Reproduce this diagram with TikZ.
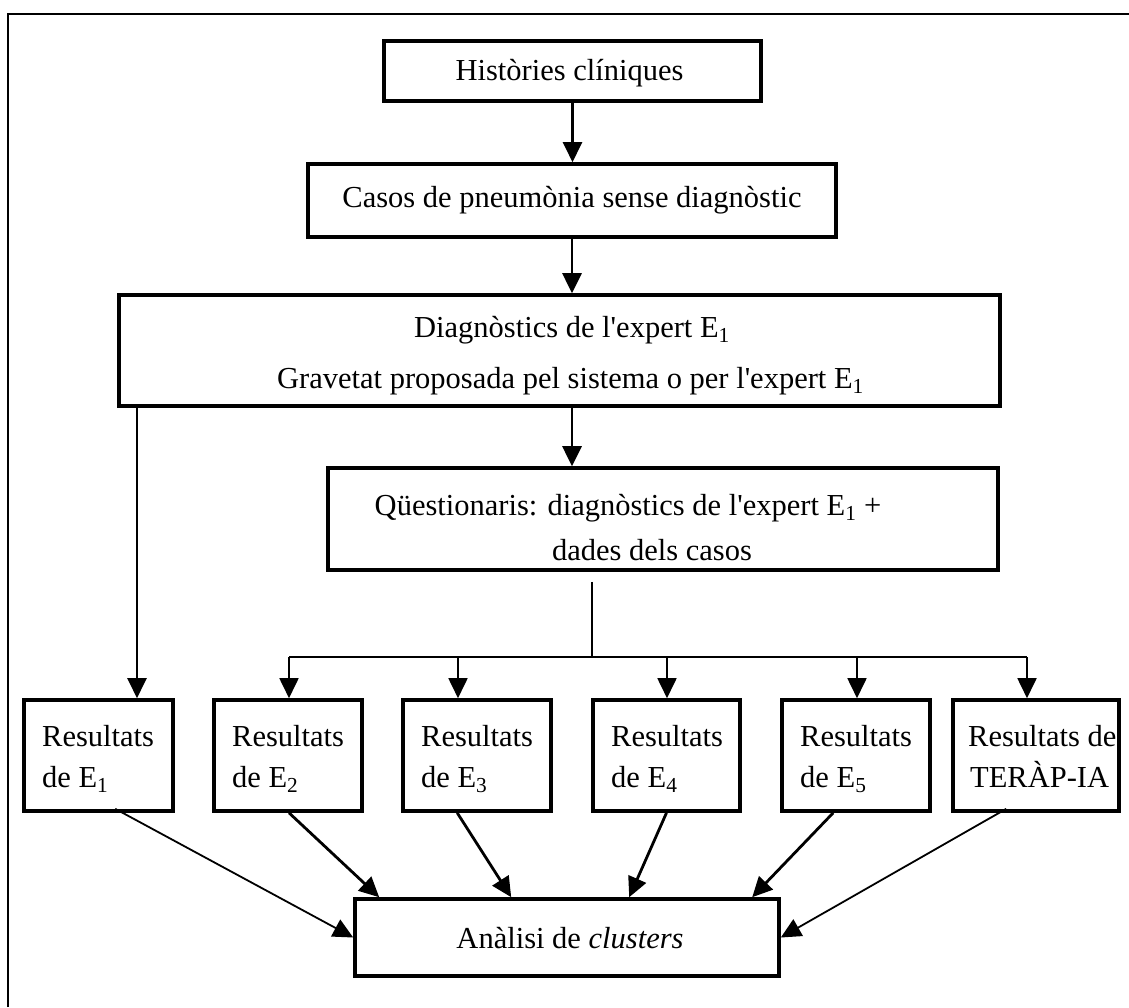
\documentclass[tikz,border=0pt]{standalone}
\usepackage{fontspec}
\setmainfont{Liberation Serif}[Ligatures=TeXOff]
\usetikzlibrary{arrows.meta,fit,calc}
\begin{document}
\begin{tikzpicture}[x=1pt,y=-1pt,
  box/.style={draw, line width=3.6pt, inner sep=0pt},
  lbl/.style={inner sep=0pt, font=\fontsize{30.5}{36}\selectfont},
  lblc/.style={lbl, anchor=base},
  lbll/.style={lbl, anchor=base west},
  tip/.style={-{Triangle[length=20pt,width=19pt]}},
  conthin/.style={tip, line width=1.8pt},
  conmid/.style={tip, line width=2.2pt},
  conthick/.style={tip, line width=2.8pt},
  rule/.style={line width=2pt}
]
\useasboundingbox (0,0) rectangle (1129,1007);

% outer frame (top and left sides)
\draw[line width=2.2pt] (8,1007) -- (8,14) -- (1129,14);

% boxes
\node[box, fit={(384,41) (761,101)}] (h1) {};
\node[box, fit={(308,164) (836,237)}] (h2) {};
\node[box, fit={(119,295) (1000,406)}] (h3) {};
\node[box, fit={(328,468) (998,570)}] (h4) {};
\node[box, fit={(24,700) (173,811)}] (e1) {};
\node[box, fit={(214,700) (362,811)}] (e2) {};
\node[box, fit={(403,700) (551,811)}] (e3) {};
\node[box, fit={(593,700) (740,811)}] (e4) {};
\node[box, fit={(782,700) (930,811)}] (e5) {};
\node[box, fit={(953,700) (1119,811)}] (tr) {};
\node[box, fit={(355,899) (779,976)}] (an) {};

% texts
\node[lblc] (t1) at (569.5,80) {Històries clíniques};
\node[lblc] (t2) at (572,207) {Casos de pneumònia sense diagnòstic};
\node[lblc] (t3a) at (572,337) {Diagnòstics de l'expert E\textsubscript{1}};
\node[lblc] (t3b) at (570.5,388) {Gravetat proposada pel sistema o per l'expert E\textsubscript{1}};
\node[lblc] (t4a) at (628,515) {Qüestionaris: diagnòstics de l'expert E\textsubscript{1} +};
\node[lblc] (t4b) at (652,560) {dades dels casos};
\node[lbll] (r1a) at (42,746) {Resultats};
\node[lbll] (r1b) at (42,787) {de E\textsubscript{1}};
\node[lbll] (r2a) at (232,746) {Resultats};
\node[lbll] (r2b) at (232,787) {de E\textsubscript{2}};
\node[lbll] (r3a) at (421,746) {Resultats};
\node[lbll] (r3b) at (421,787) {de E\textsubscript{3}};
\node[lbll] (r4a) at (611,746) {Resultats};
\node[lbll] (r4b) at (611,787) {de E\textsubscript{4}};
\node[lbll] (r5a) at (800,746) {Resultats};
\node[lbll] (r5b) at (800,787) {de E\textsubscript{5}};
\node[lbll] (r6a) at (968,746) {Resultats de};
\node[lbll] (r6b) at (970,787) {TERÀP-IA};
\node[lblc] (ta) at (570,948) {Anàlisi de \textit{clusters}};

% vertical flow
\coordinate (mid) at (572,0);
\draw[conmid] (h1.south) -- (h2.north -| h1.south);
\draw[conthick] (h2.south -| mid) -- (h3.north -| mid);
\draw[conthick] (h3.south -| mid) -- (h4.north -| mid);

% distribution to the experts and the system
\coordinate (sp) at (592,657);
\coordinate (x1) at (137,0);
\coordinate (x2) at (289,0);
\coordinate (x3) at (458,0);
\coordinate (x4) at (667,0);
\coordinate (x5) at (857,0);
\coordinate (x6) at (1027,0);
\draw[rule] ([yshift=-10pt]h4.south -| sp) -- (sp);
\draw[rule] (sp -| x2) -- (sp -| x6);
\draw[conthin] (sp -| x2) -- (e2.north -| x2);
\draw[conthin] (sp -| x3) -- (e3.north -| x3);
\draw[conthin] (sp -| x4) -- (e4.north -| x4);
\draw[conthin] (sp -| x5) -- (e5.north -| x5);
\draw[conthin] (sp -| x6) -- (tr.north -| x6);
\draw[conmid] (h3.south -| x1) -- (e1.north -| x1);

% results into the cluster analysis
\draw[conthin] ($(e1.south west)+(93,-4)$) -- (an.west);
\draw[conthick] (e2.south -| x2) -- ($(an.north west)+(26,0)$);
\draw[conthick] ($(e3.south west)+(56,0)$) -- ($(an.north west)+(158,0)$);
\draw[conthick] (e4.south) -- ($(an.north west)+(276,0)$);
\draw[conthick] ($(e5.south west)+(53,0)$) -- ($(an.north west)+(399,0)$);
\draw[conthin] ($(tr.south west)+(55,-4)$) -- (an.east);
\end{tikzpicture}
\end{document}
